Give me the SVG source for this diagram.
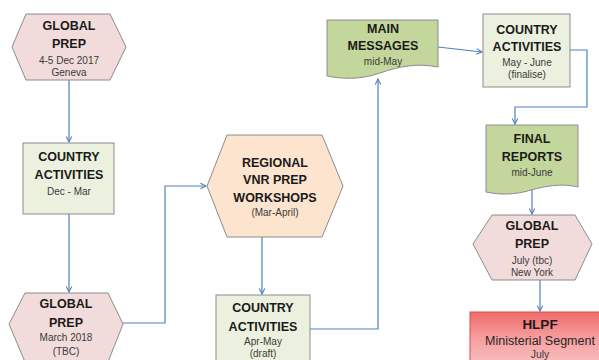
<svg xmlns="http://www.w3.org/2000/svg" width="599" height="360" viewBox="0 0 599 360">
<defs>
<marker id="arr" viewBox="0 0 10 10" refX="9" refY="5" markerWidth="7" markerHeight="7" orient="auto" markerUnits="userSpaceOnUse">
<path d="M1,1 L9,5 L1,9" fill="none" stroke="#4f81bd" stroke-width="1.5"/>
</marker>
<linearGradient id="red" x1="0" y1="0" x2="0" y2="1">
<stop offset="0" stop-color="#f06a6a"/>
<stop offset="0.45" stop-color="#f6a0a0"/>
<stop offset="1" stop-color="#fac8c8"/>
</linearGradient>
</defs>
<style>
.shape{stroke:#8c8c8c;stroke-width:1}
.pink{fill:#f2dcdb}
.peach{fill:#fde4cf}
.green{fill:#ebf1de}
.olive{fill:#c3d69b}
.t{font-family:"Liberation Sans",Arial,sans-serif;font-weight:bold;font-size:12.5px;fill:#1a1a1a;text-anchor:middle}
.s{font-family:"Liberation Sans",Arial,sans-serif;font-size:10px;fill:#3a3a3a;text-anchor:middle}
.c{fill:none;stroke:#4f81bd;stroke-width:1.2}
</style>
<rect width="599" height="360" fill="#ffffff"/>
<g id="connectors">
<path class="c" d="M69,80 V142" marker-end="url(#arr)"/>
<path class="c" d="M69,214 V292" marker-end="url(#arr)"/>
<path class="c" d="M123,323 H165 V186 H206" marker-end="url(#arr)"/>
<path class="c" d="M262,237 V294" marker-end="url(#arr)"/>
<path class="c" d="M310,329 H378 V79" marker-end="url(#arr)"/>
<path class="c" d="M438,47 L482,52" marker-end="url(#arr)"/>
<path class="c" d="M570,50 H587 V107 H515 V124" marker-end="url(#arr)"/>
<path class="c" d="M532,190 V214" marker-end="url(#arr)"/>
<path class="c" d="M540,280 V311" marker-end="url(#arr)"/>
</g>
<g id="global-prep-1">
<polygon class="shape pink" points="26,14 110,14 126,47 110,80 26,80 12,47"/>
<text class="t" x="69" y="30">GLOBAL</text>
<text class="t" x="69" y="48">PREP</text>
<text class="s" x="69" y="64">4-5 Dec 2017</text>
<text class="s" x="69" y="76">Geneva</text>
</g>
<g id="country-activities-1">
<rect class="shape green" x="23" y="143" width="91" height="71"/>
<text class="t" x="69" y="161">COUNTRY</text>
<text class="t" x="69" y="179">ACTIVITIES</text>
<text class="s" x="69" y="195">Dec - Mar</text>
</g>
<g id="global-prep-2">
<polygon class="shape pink" points="25,293 108,293 123,324 108,362 25,362 9,324"/>
<text class="t" x="66" y="308">GLOBAL</text>
<text class="t" x="66" y="327">PREP</text>
<text class="s" x="66" y="341">March 2018</text>
<text class="s" x="66" y="355">(TBC)</text>
</g>
<g id="regional-workshops">
<polygon class="shape peach" points="227,135 322,135 343,186 322,237 227,237 207,186"/>
<text class="t" x="275" y="167">REGIONAL</text>
<text class="t" x="275" y="184">VNR PREP</text>
<text class="t" x="275" y="202">WORKSHOPS</text>
<text class="s" x="275" y="216">(Mar-April)</text>
</g>
<g id="country-activities-2">
<rect class="shape green" x="216" y="295" width="94" height="70"/>
<text class="t" x="263" y="312">COUNTRY</text>
<text class="t" x="263" y="331">ACTIVITIES</text>
<text class="s" x="263" y="345">Apr-May</text>
<text class="s" x="263" y="357">(draft)</text>
</g>
<g id="main-messages">
<path class="shape olive" d="M327,20 H438 V67 C418,63 400,66 380,73 C360,80 342,79 327,76 Z"/>
<text class="t" x="383" y="33">MAIN</text>
<text class="t" x="383" y="50">MESSAGES</text>
<text class="s" x="383" y="65">mid-May</text>
</g>
<g id="country-activities-3">
<rect class="shape green" x="483" y="14" width="87" height="73"/>
<text class="t" x="527" y="34">COUNTRY</text>
<text class="t" x="527" y="51">ACTIVITIES</text>
<text class="s" x="527" y="66">May - June</text>
<text class="s" x="527" y="78">(finalise)</text>
</g>
<g id="final-reports">
<path class="shape olive" d="M486,125 H578 V187 C561,183 546,186 531,190 C515,195 500,195 486,192 Z"/>
<text class="t" x="532" y="143">FINAL</text>
<text class="t" x="532" y="161">REPORTS</text>
<text class="s" x="532" y="176">mid-June</text>
</g>
<g id="global-prep-3">
<polygon class="shape pink" points="492,215 575,215 592,244 575,280 492,280 473,244"/>
<text class="t" x="532" y="230">GLOBAL</text>
<text class="t" x="532" y="248">PREP</text>
<text class="s" x="532" y="264">July (tbc)</text>
<text class="s" x="532" y="276">New York</text>
</g>
<g id="hlpf">
<rect x="470" y="312" width="140" height="60" fill="url(#red)" stroke="#d05050" stroke-width="1"/>
<text class="t" x="540" y="329" style="font-size:13.5px">HLPF</text>
<text class="s" x="540" y="345" style="font-size:12.5px;fill:#262626">Ministerial Segment</text>
<text class="s" x="540" y="358" style="font-size:10.5px">July</text>
</g>
</svg>
